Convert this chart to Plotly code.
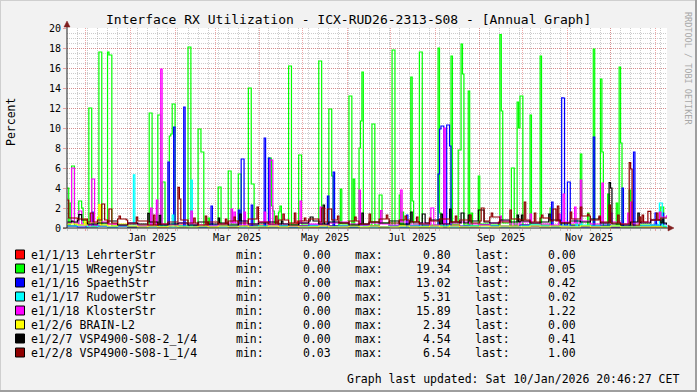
import plotly.graph_objects as go
from datetime import datetime, timedelta

# ---------------- data ----------------
START = datetime(2024, 11, 18)      # day 0
N_DAYS = 418
X_RANGE = ["2024-11-17 19:12", "2026-01-09 07:12"]

series_names = ["e1/1/13 LehrterStr", "e1/1/15 WRegenyStr", "e1/1/16 SpaethStr",
                "e1/1/17 RudowerStr", "e1/1/18 KlosterStr", "e1/2/6 BRAIN-L2",
                "e1/2/7 VSP4900-S08-2_1/4", "e1/2/8 VSP4900-S08-1_1/4"]
series_colors = ["#FF0000", "#00FF00", "#0000FF", "#00FFFF", "#FF00FF", "#FFFF00",
                 "#000000", "#8F0000"]
stat_min = ["0.00", "0.00", "0.00", "0.00", "0.00", "0.00", "0.00", "0.03"]
stat_max = ["0.80", "19.34", "13.02", "5.31", "15.89", "2.34", "4.54", "6.54"]
stat_last = ["0.00", "0.05", "0.42", "0.02", "1.22", "0.00", "0.41", "1.00"]

month_label_dates = ["2025-01-16", "2025-03-16", "2025-05-16", "2025-07-16", "2025-09-16", "2025-11-16"]
month_labels = ["Jan 2025", "Mar 2025", "May 2025", "Jul 2025", "Sep 2025", "Nov 2025"]
month_grid = ["2024-12-01", "2025-01-01", "2025-02-01", "2025-03-01", "2025-04-01", "2025-05-01",
              "2025-06-01", "2025-07-01", "2025-08-01", "2025-09-01", "2025-10-01", "2025-11-01",
              "2025-12-01", "2026-01-01"]
y_ticks = [0, 2, 4, 6, 8, 10, 12, 14, 16, 18, 20]

# weekly low-level floor of each series
red_floor = [0.2,0.3,0.1,0.2,0.4,0.2,0.1,0.3,0.2,0.1,0.2,0.3,0.2,0.1,0.2,0.3,0.1,0.2,0.2,0.3,
             0.1,0.2,0.4,0.2,0.1,0.3,0.2,0.2,0.1,0.3,0.2,0.1,0.2,0.3,0.2,0.1,0.2,0.2,0.3,0.1,
             0.2,0.3,0.2,0.1,0.2,0.3,0.2,0.2,0.1,0.2,0.3,0.2,0.1,0.2,0.1,0.1,0.2,0.1,0.1,0.1]
green_floor = [0.3,0.5,0.2,0.4,0.2,0.3,0.1,0.2,0.3,0.2,0.4,0.2,0.3,0.2,0.1,0.3,0.4,0.2,0.3,0.2,
               0.5,0.2,0.3,0.4,0.2,0.3,0.2,0.4,0.3,0.2,0.3,0.5,0.2,0.3,0.4,0.2,0.3,0.2,0.4,0.3,
               0.2,0.4,0.3,0.5,0.3,0.2,0.4,0.3,0.2,0.4,0.3,0.2,0.3,0.2,0.2,0.1,0.2,0.3,0.2,0.1]
blue_floor = [0.2,0.1,0.3,0.2,0.1,0.2,0.1,0.1,0.2,0.3,0.2,0.1,0.2,0.1,0.3,0.2,0.1,0.2,0.2,0.1,
              0.3,0.2,0.1,0.2,0.3,0.1,0.2,0.2,0.1,0.3,0.2,0.1,0.2,0.1,0.2,0.3,0.2,0.1,0.2,0.2,
              0.1,0.3,0.2,0.2,0.1,0.3,0.2,0.1,0.2,0.3,0.2,0.1,0.2,0.3,0.1,0.2,0.1,0.2,0.3,0.4]
cyan_floor = [0.2,0.3,0.1,0.2,0.1,0.2,0.3,0.1,0.1,0.2,0.1,0.2,0.1,0.1,0.2,0.1,0.2,0.1,0.1,0.2,
              0.1,0.2,0.1,0.1,0.2,0.1,0.1,0.2,0.1,0.2,0.1,0.1,0.2,0.1,0.2,0.1,0.1,0.2,0.1,0.1,
              0.2,0.1,0.2,0.1,0.1,0.2,0.3,0.2,0.1,0.2,0.1,0.3,0.2,0.1,0.2,0.1,0.1,0.2,0.3,0.2]
magenta_floor = [0.5,0.4,0.3,0.6,0.4,0.3,0.5,0.2,0.3,0.4,0.3,0.5,0.4,0.3,0.2,0.4,0.5,0.3,0.4,0.6,
                 0.3,0.4,0.2,0.5,0.4,0.3,0.5,0.6,0.4,0.3,0.5,0.4,0.3,0.6,0.4,0.5,0.3,0.4,0.5,0.6,
                 0.4,0.3,0.5,0.7,0.4,0.6,0.5,0.4,0.3,0.6,0.5,0.7,0.4,0.5,0.6,0.4,0.5,0.6,0.8,1.1]
yellow_floor = [0.4,0.3,0.5,0.3,0.2,0.4,0.2,0.1,0.2,0.1,0.2,0.1,0.1,0.2,0.1,0.2,0.1,0.2,0.1,0.1,
                0.2,0.1,0.2,0.1,0.1,0.2,0.1,0.1,0.2,0.1,0.2,0.1,0.1,0.2,0.1,0.1,0.2,0.1,0.2,0.1,
                0.1,0.2,0.1,0.2,0.1,0.1,0.2,0.1,0.2,0.1,0.1,0.2,0.1,0.1,0.2,0.1,0.1,0.1,0.1,0.0]
black_floor = [0.6,0.8,0.4,0.5,0.7,0.3,0.5,0.4,0.6,0.3,0.4,0.5,0.3,0.6,0.4,0.5,0.3,0.7,0.4,0.5,
               0.6,0.4,0.3,0.5,0.7,0.4,0.6,0.5,0.3,0.4,0.6,0.5,0.7,0.4,0.6,0.5,0.8,0.4,0.6,0.5,
               0.7,0.6,0.5,0.8,0.6,0.7,0.5,0.6,0.8,0.5,0.7,0.6,0.9,0.5,0.4,0.3,0.6,0.5,0.8,0.5]
darkred_floor = [1.0,0.9,0.6,0.8,0.5,0.9,0.4,0.7,0.3,0.4,0.6,0.8,0.5,0.3,0.6,0.4,0.7,0.5,0.9,0.6,
                 0.4,0.8,0.5,0.7,0.9,0.6,0.8,0.5,0.7,0.4,0.6,0.9,0.5,0.8,0.6,0.4,0.7,0.9,0.6,0.8,
                 0.5,0.7,1.1,0.6,0.9,0.8,0.6,1.0,0.7,0.5,0.9,1.2,0.8,0.6,0.5,0.4,0.3,0.6,0.8,1.0]

# peaks: day index (from START) and value
red_days = [23, 160, 300, 417]
red_vals = [0.8, 0.7, 0.6, 0.0]

green_days = [0, 2, 3, 4, 8, 9, 10, 15, 16, 22, 23, 28, 29, 30, 57, 58, 63, 64, 66, 67,
              71, 72, 73, 74, 84, 85, 91, 92, 93, 94, 98, 105, 106, 112, 113, 119, 120,
              126, 127, 128, 129, 140, 141, 142, 143, 147, 148, 154, 155, 161, 162, 175, 176,
              182, 183, 184, 190, 196, 197, 199, 203, 204, 205, 212, 213, 217, 218, 226, 227,
              231, 233, 239, 240, 245, 246, 258, 259, 267, 272, 273, 274, 275, 279, 281, 286,
              301, 302, 309, 310, 313, 314, 315, 316, 322, 329, 336, 357, 362, 366, 371, 372,
              376, 382, 384, 385, 391, 413, 414, 417]
green_vals = [4.0, 2.5, 6.2, 6.2, 2.7, 2.7, 2.0, 12.0, 12.0, 17.6, 17.6, 17.6, 17.3, 17.3, 11.5, 11.5, 11.3, 11.3, 4.6, 4.6,
              9.2, 9.4, 12.4, 12.4, 18.1, 18.1, 9.9, 9.9, 7.6, 7.6, 1.0, 4.1, 4.1, 5.7, 5.7, 5.4, 5.4,
              14.0, 14.0, 4.4, 4.4, 7.0, 7.0, 2.2, 1.7, 1.6, 2.2, 16.2, 16.2, 7.3, 7.3, 16.7, 16.7,
              11.9, 11.9, 5.2, 3.9, 13.2, 13.2, 4.9, 8.0, 10.7, 15.6, 10.4, 10.4, 3.3, 3.3, 17.8, 17.8,
              3.3, 1.6, 15.1, 2.7, 17.6, 17.6, 18.0, 1.5, 17.2, 7.8, 7.8, 18.4, 15.4, 13.7, 1.5, 5.2,
              19.34, 11.7, 6.0, 6.0, 12.6, 10.0, 13.2, 13.2, 11.3, 17.2, 2.0, 7.4, 1.5, 17.9, 14.9, 7.6,
              3.4, 2.5, 16.1, 8.5, 3.8, 2.1, 2.1, 0.05]

blue_days = [17, 70, 74, 81, 100, 119, 121, 122, 128, 137, 140, 181, 185, 236, 258, 259, 260, 261,
             264, 265, 266, 337, 344, 345, 348, 349, 366, 386, 394, 409, 414, 417]
blue_vals = [1.6, 6.6, 10.1, 12.1, 2.2, 1.8, 6.9, 6.9, 2.3, 9.0, 7.0, 3.2, 5.6, 1.3, 5.4, 9.9, 10.2, 10.2,
             10.3, 10.3, 8.2, 2.6, 13.02, 13.0, 4.6, 4.6, 9.1, 4.0, 7.6, 1.5, 1.5, 0.42]

cyan_days = [46, 73, 86, 354, 357, 412, 413, 417]
cyan_vals = [5.31, 1.3, 4.8, 0.8, 0.7, 2.5, 2.5, 0.02]

magenta_days = [3, 4, 8, 9, 17, 18, 58, 62, 65, 86, 114, 116, 123, 137, 141, 142, 162, 176, 203,
                218, 232, 253, 254, 262, 301, 322, 342, 345, 353, 357, 372, 378, 390, 392, 412, 417]
magenta_vals = [6.0, 6.0, 1.7, 1.7, 4.9, 4.9, 2.0, 2.8, 15.89, 1.7, 1.9, 1.6, 1.6, 1.6, 6.8, 6.8, 2.7, 2.1, 3.8,
                1.75, 3.8, 2.0, 2.0, 10.0, 1.2, 1.4, 1.4, 3.4, 2.1, 4.8, 4.5, 1.5, 1.5, 2.6, 1.6, 1.22]

yellow_days = [12, 21, 22, 417]
yellow_vals = [0.9, 1.1, 2.34, 0.0]

black_days = [3, 8, 9, 56, 64, 105, 120, 149, 169, 170, 178, 205, 239, 247, 248, 260, 266, 274, 275,
              279, 286, 287, 288, 289, 313, 316, 335, 370, 377, 378, 397, 414, 417]
black_vals = [0.7, 1.33, 1.33, 1.47, 1.27, 1.0, 1.4, 0.7, 1.1, 1.1, 2.3, 1.5, 1.6, 1.4, 1.4, 1.4, 1.9, 1.5, 1.5,
              1.3, 1.8, 1.8, 1.8, 1.8, 1.3, 1.3, 1.4, 1.1, 4.54, 4.0, 1.5, 0.9, 0.41]

darkred_days = [0, 5, 11, 16, 17, 24, 25, 29, 30, 36, 41, 48, 60, 77, 78, 88, 96, 110, 116, 132,
                145, 150, 158, 165, 177, 178, 181, 182, 183, 188, 200, 210, 222, 235, 243, 252,
                270, 280, 288, 289, 295, 298, 308, 318, 325, 330, 338, 339, 341, 350, 357, 362,
                370, 377, 383, 391, 392, 398, 400, 404, 405, 410, 417]
darkred_vals = [2.8, 1.0, 0.9, 1.5, 1.5, 2.4, 2.4, 1.9, 1.9, 1.2, 0.8, 1.1, 1.3, 4.07, 2.9, 1.0, 1.2, 0.9, 1.1, 2.1,
                1.2, 1.4, 1.5, 1.0, 2.0, 2.0, 1.9, 1.9, 1.9, 1.2, 1.1, 1.4, 1.3, 1.2, 1.1, 1.0,
                1.2, 1.3, 2.0, 2.0, 1.5, 1.1, 1.8, 2.6, 1.5, 1.3, 1.9, 1.9, 2.2, 1.6, 2.1, 1.4,
                1.2, 2.3, 1.3, 6.54, 5.9, 1.1, 1.3, 1.67, 1.67, 1.5, 1.0]

floors = [red_floor, green_floor, blue_floor, cyan_floor, magenta_floor, yellow_floor, black_floor, darkred_floor]
peak_days = [red_days, green_days, blue_days, cyan_days, magenta_days, yellow_days, black_days, darkred_days]
peak_vals = [red_vals, green_vals, blue_vals, cyan_vals, magenta_vals, yellow_vals, black_vals, darkred_vals]


def build(floor, days, vals):
    y = [floor[min(d // 7, len(floor) - 1)] for d in range(N_DAYS)]
    for d, v in zip(days, vals):
        y[d] = v
    y.append(y[-1])
    return y


x_dates = [START + timedelta(days=d) for d in range(N_DAYS + 1)]

# ---------------- figure ----------------
W, H = 697, 392
L, R, T, B = 67, 667, 28, 228


def px(x):
    return (x - L) / (R - L)


def py(y):
    return (B - y) / (B - T)


MONO = "DejaVu Sans Mono"
fig = go.Figure()
for i in range(len(series_names)):
    fig.add_trace(go.Scatter(
        x=x_dates, y=build(floors[i], peak_days[i], peak_vals[i]),
        mode="lines", line=dict(color=series_colors[i], width=1.2, shape="hv"),
        hoverinfo="skip", showlegend=False))

grid_minor = "rgba(143,143,143,0.45)"
grid_major = "rgba(222,79,79,0.5)"

fig.update_layout(
    width=W, height=H,
    margin=dict(l=L, r=W - R, t=T, b=H - B, pad=0),
    paper_bgcolor="#F2F2F2", plot_bgcolor="#FFFFFF",
    font=dict(family=MONO, size=10, color="#000000"),
    showlegend=False,
)
fig.update_xaxes(
    type="date", range=X_RANGE, tickmode="array", tickvals=month_grid,
    showticklabels=False, showgrid=True, gridcolor=grid_major, griddash="1px,1px", gridwidth=1,
    ticks="outside", ticklen=2, tickcolor=grid_major, showline=False, zeroline=False,
    minor=dict(tickmode="linear", tick0="2024-11-18", dtick=7 * 86400000, showgrid=True,
               gridcolor=grid_minor, griddash="1px,1px", ticks="outside", ticklen=2,
               tickcolor=grid_minor),
    fixedrange=True)
fig.update_yaxes(
    range=[0, 20], tickmode="array", tickvals=y_ticks, ticktext=[str(v) for v in y_ticks],
    showgrid=True, gridcolor=grid_major, griddash="1px,1px", ticks="outside", ticklen=3,
    tickcolor=grid_major, tickfont=dict(family=MONO, size=10), showline=False, zeroline=False,
    minor=dict(dtick=0.5, showgrid=True, gridcolor=grid_minor, griddash="1px,1px"),
    fixedrange=True)

shapes = []
# axes
shapes.append(dict(type="line", xref="paper", yref="paper", x0=px(67), x1=px(67), y0=py(228), y1=py(24),
                   line=dict(color="#1F1F1F", width=1)))
shapes.append(dict(type="line", xref="paper", yref="paper", x0=px(63), x1=px(669), y0=py(228), y1=py(228),
                   line=dict(color="#1F1F1F", width=1)))
# arrows
shapes.append(dict(type="path", xref="paper", yref="paper",
                   path=f"M {px(64)} {py(27)} L {px(67)} {py(21)} L {px(70)} {py(27)} Z",
                   fillcolor="#801F1F", line=dict(color="#801F1F", width=0.5)))
shapes.append(dict(type="path", xref="paper", yref="paper",
                   path=f"M {px(668)} {py(225)} L {px(674)} {py(228)} L {px(668)} {py(231)} Z",
                   fillcolor="#801F1F", line=dict(color="#801F1F", width=0.5)))
# frame
shapes.append(dict(type="line", xref="paper", yref="paper", x0=px(0.5), x1=px(0.5), y0=py(0), y1=py(392),
                   line=dict(color="#CFCFCF", width=1)))
shapes.append(dict(type="line", xref="paper", yref="paper", x0=px(0), x1=px(697), y0=py(0.5), y1=py(0.5),
                   line=dict(color="#CFCFCF", width=1)))
shapes.append(dict(type="line", xref="paper", yref="paper", x0=px(696), x1=px(696), y0=py(0), y1=py(392),
                   line=dict(color="#9E9E9E", width=2)))
shapes.append(dict(type="line", xref="paper", yref="paper", x0=px(0), x1=px(697), y0=py(391), y1=py(391),
                   line=dict(color="#9E9E9E", width=2)))

annotations = []
# title
annotations.append(dict(text="Interface RX Utilization - ICX-RUD26-2313-S08 - [Annual Graph]",
                        xref="paper", yref="paper", x=px(348), y=py(19), xanchor="center", yanchor="middle",
                        showarrow=False, font=dict(family=MONO, size=13)))
# y axis title
annotations.append(dict(text="Percent", xref="paper", yref="paper", x=px(11), y=py(122),
                        xanchor="center", yanchor="middle", textangle=-90, showarrow=False,
                        font=dict(family=MONO, size=11.5)))
# watermark
annotations.append(dict(text="RRDTOOL / TOBI OETIKER", xref="paper", yref="paper", x=px(688), y=py(68),
                        xanchor="center", yanchor="middle", textangle=90, showarrow=False,
                        font=dict(family=MONO, size=8.5, color="#A8A8A8")))
# month labels
for d, t in zip(month_label_dates, month_labels):
    annotations.append(dict(text=t, xref="x", yref="paper", x=d, y=py(237), xanchor="center",
                            yanchor="middle", showarrow=False, font=dict(family=MONO, size=10)))
# legend
for i in range(len(series_names)):
    yc = 254.5 + 14 * i
    shapes.append(dict(type="rect", xref="paper", yref="paper", x0=px(15.5), x1=px(24.5),
                       y0=py(yc - 4.5), y1=py(yc + 4.5), fillcolor=series_colors[i],
                       line=dict(color="#000000", width=1)))
    for txt, xx, anc in [(series_names[i], 29, "left"), ("min:", 234, "left"), (stat_min[i], 333, "right"),
                         ("max:", 353, "left"), (stat_max[i], 453, "right"), ("last:", 473, "left"),
                         (stat_last[i], 578, "right")]:
        annotations.append(dict(text=txt, xref="paper", yref="paper", x=px(xx), y=py(yc),
                                xanchor=anc, yanchor="middle", showarrow=False,
                                font=dict(family=MONO, size=11.5)))
annotations.append(dict(text="Graph last updated: Sat 10/Jan/2026 20:46:27 CET", xref="paper", yref="paper",
                        x=px(681), y=py(379), xanchor="right", yanchor="middle", showarrow=False,
                        font=dict(family=MONO, size=11.5)))

fig.update_layout(shapes=shapes, annotations=annotations)
fig.write_html("out.html", config={"displayModeBar": False},
               post_script="document.body.style.margin='0';document.body.style.padding='0';")
